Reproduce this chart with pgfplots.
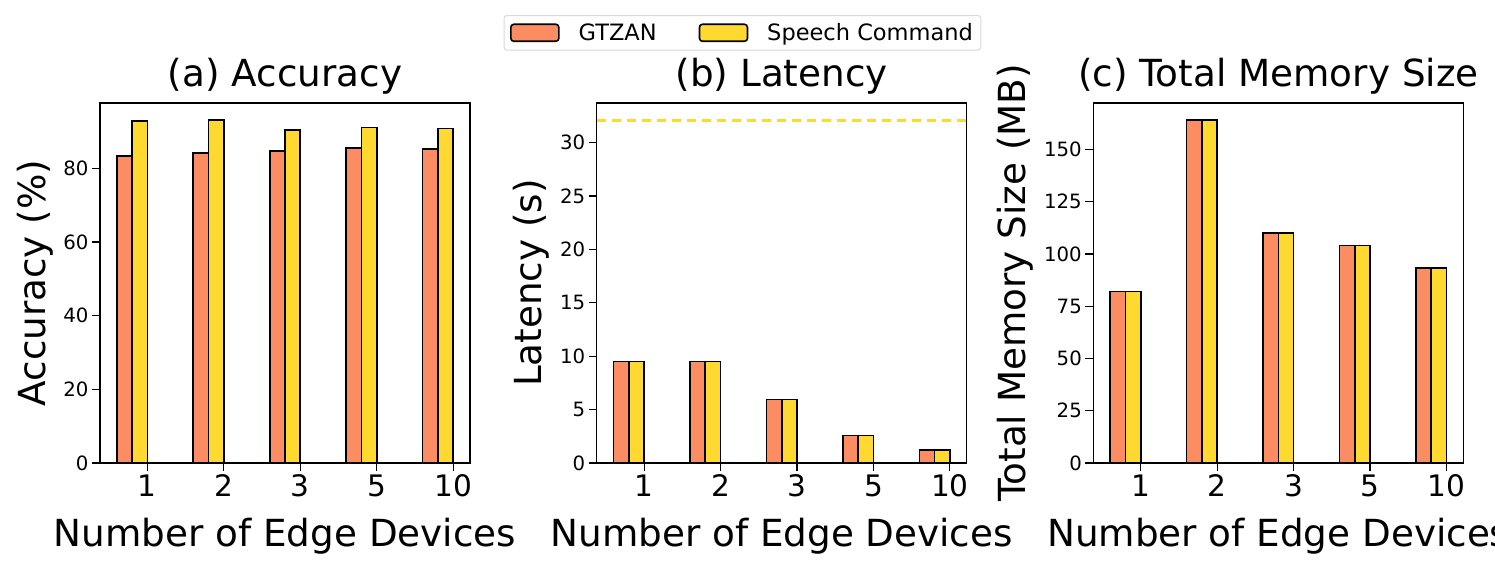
\documentclass[border=0pt]{standalone}
\usepackage{fontspec}
\setmainfont{DejaVu Sans}
\usepackage{pgfplots}
\pgfplotsset{compat=1.18}
\definecolor{cgtzan}{HTML}{FC8D62}
\definecolor{cspeech}{HTML}{FFD92F}
\newcommand{\bigf}{\fontsize{37.3bp}{44bp}\selectfont}
\newcommand{\xtf}{\fontsize{29.6bp}{34bp}\selectfont}
\newcommand{\ytf}{\fontsize{19.7bp}{23bp}\selectfont}
\newcommand{\lgf}{\fontsize{22.5bp}{26bp}\selectfont}
\pgfplotsset{
  common/.style={
    scale only axis, width=370bp, height=360bp, anchor=south west,
    xmin=-0.62, xmax=4.22, ymin=0,
    xtick={0,1,2,3,4}, xticklabels={1,2,3,5,10},
    tick align=outside, tick pos=left, major tick length=8bp,
    every tick/.style={line width=1.2bp, black},
    axis line style={line width=1.2bp},
    /pgf/number format/assume math mode=true,
    xticklabel style={font=\xtf},
    yticklabel style={font=\ytf},
    title style={font=\bigf, at={(axis description cs:0.5,1.0306)}, anchor=base},
    xlabel style={font=\bigf, at={(axis description cs:0.5,-0.2333)}, anchor=base},
    ylabel style={font=\bigf, anchor=base},
    xlabel={Number of Edge Devices},
    clip=false,
  },
  gbar/.style={ybar, bar width=0.2, bar shift=-0.3, fill=cgtzan, draw=black, line width=1.6bp},
  sbar/.style={ybar, bar width=0.2, bar shift=-0.1, fill=cspeech, draw=black, line width=1.6bp},
}
\begin{document}
\begin{tikzpicture}
\path[use as bounding box] (0,0) rectangle (1495bp,570bp);
% (a)
\begin{axis}[common, at={(100bp,107bp)}, ymax=97.76, ytick={0,20,40,60,80},
  title={(a) Accuracy}, ylabel={Accuracy (\%)},
  ylabel style={at={(axis description cs:-0.1486,0.5)}}]
\addplot[gbar] coordinates {(0,83.3) (1,84.2) (2,84.8) (3,85.6) (4,85.3)};
\addplot[sbar] coordinates {(0,92.9) (1,93.1) (2,90.4) (3,91.1) (4,90.8)};
\end{axis}
% (b)
\begin{axis}[common, at={(596.7bp,107bp)}, ymax=33.72, ytick={0,5,10,15,20,25,30},
  title={(b) Latency}, ylabel={Latency (s)},
  ylabel style={at={(axis description cs:-0.1486,0.5)}},
  legend style={at={(axis description cs:0.394,1.2444)}, anchor=north,
    draw=black!15, line width=1bp, rounded corners=3bp, font=\lgf,
    inner xsep=6bp, inner ysep=6bp,
    /tikz/every odd column/.append style={column sep=17bp},
    /tikz/every even column/.append style={column sep=40bp}},
  legend columns=2, legend cell align=left,
  legend image code/.code={\draw[#1, bar width=0, bar shift=0] (0bp,-8.5bp) rectangle (48bp,8.5bp);}]
\addplot[gbar] coordinates {(0,9.5) (1,9.5) (2,5.94) (3,2.57) (4,1.22)};
\addlegendentry{GTZAN}
\addplot[sbar] coordinates {(0,9.5) (1,9.5) (2,5.94) (3,2.57) (4,1.22)};
\addlegendentry{Speech Command}
\addplot[forget plot, cspeech, line width=3bp, dash pattern=on 9bp off 6bp] coordinates {(-0.62,32.1) (4.22,32.1)};
\end{axis}
% (c)
\begin{axis}[common, at={(1093.3bp,107bp)}, ymax=172.2, ytick={0,25,50,75,100,125,150},
  title={(c) Total Memory Size}, ylabel={Total Memory Size (MB)},
  ylabel style={at={(axis description cs:-0.1824,0.5)}}]
\addplot[gbar] coordinates {(0,82) (1,164) (2,110) (3,104) (4,93.4)};
\addplot[sbar] coordinates {(0,82) (1,164) (2,110) (3,104) (4,93.4)};
\end{axis}
\end{tikzpicture}
\end{document}
